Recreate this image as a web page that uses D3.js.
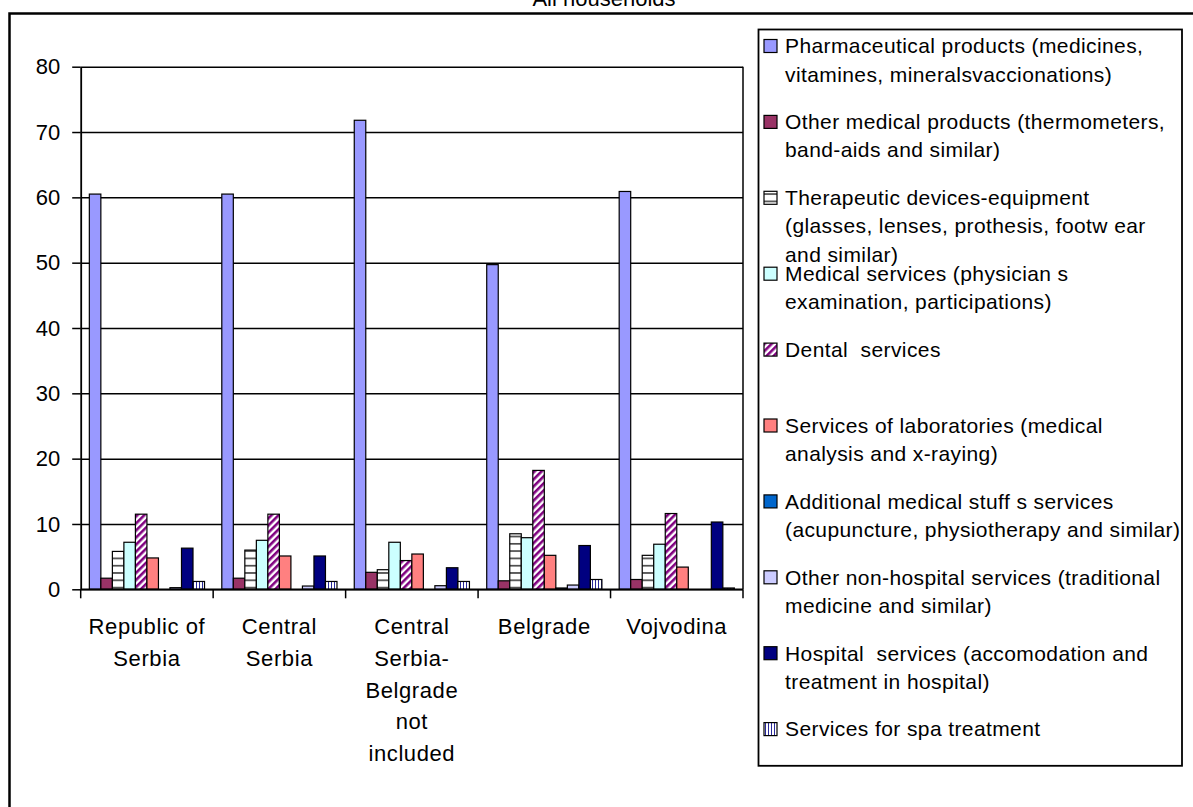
<!DOCTYPE html>
<html>
<head>
<meta charset="utf-8">
<script src="https://cdn.jsdelivr.net/npm/d3@7"></script>
<style>
  body { margin: 0; background: #fff; }
  svg { display: block; font-family: "Liberation Sans", Arial, sans-serif; }
  text { white-space: pre; fill: #000; }
</style>
</head>
<body>
<div id="chart"></div>
<script>
// categories on the x axis, and how each label wraps
var categories = ['Republic of Serbia', 'Central Serbia', 'Central Serbia-Belgrade not included', 'Belgrade', 'Vojvodina']
var categoryLines = [['Republic of', 'Serbia'], ['Central', 'Serbia'], ['Central', 'Serbia-', 'Belgrade', 'not', 'included'], ['Belgrade'], ['Vojvodina']]

// series values (one per category)
var pharmaceutical = [60.5, 60.5, 71.8, 49.7, 60.9]
var otherMedical = [1.7, 1.7, 2.6, 1.3, 1.5]
var therapeutic = [5.8, 6.0, 3.0, 8.5, 5.2]
var medicalServices = [7.2, 7.5, 7.2, 7.9, 6.9]
var dental = [11.5, 11.5, 4.4, 18.2, 11.6]
var laboratories = [4.8, 5.1, 5.4, 5.2, 3.4]
var additional = [0, 0, 0, 0.2, 0]
var otherNonHospital = [0.25, 0.5, 0.55, 0.65, 0]
var hospital = [6.3, 5.1, 3.3, 6.7, 10.3]
var spa = [1.2, 1.2, 1.2, 1.5, 0.2]

// legend texts, wrapped like in the original
var legendLines = [
  ['Pharmaceutical products (medicines,', 'vitamines, mineralsvaccionations)'],
  ['Other medical products (thermometers,', 'band-aids and similar)'],
  ['Therapeutic devices-equipment', '(glasses, lenses, prothesis, footw ear', 'and similar)'],
  ['Medical services (physician s', 'examination, participations)'],
  ['Dental  services'],
  ['Services of laboratories (medical', 'analysis and x-raying)'],
  ['Additional medical stuff s services', '(acupuncture, physiotherapy and similar)'],
  ['Other non-hospital services (traditional', 'medicine and similar)'],
  ['Hospital  services (accomodation and', 'treatment in hospital)'],
  ['Services for spa treatment']
]

var yTicks = [0, 10, 20, 30, 40, 50, 60, 70, 80]
var title = 'All households'

// series table built from the arrays above
var series = [
  { values: pharmaceutical, fill: '#9999FF' },
  { values: otherMedical, fill: '#993366' },
  { values: therapeutic, fill: 'url(#hlines)' },
  { values: medicalServices, fill: '#CCFFFF' },
  { values: dental, fill: 'url(#diag)' },
  { values: laboratories, fill: '#FF8080' },
  { values: additional, fill: '#0066CC' },
  { values: otherNonHospital, fill: '#CCCCFF' },
  { values: hospital, fill: '#000080' },
  { values: spa, fill: 'url(#vlines)' }
]

var W = 1193, H = 807
var plot = { left: 80.7, right: 743, top: 66.7, bottom: 589.3 }

var svg = d3.select('#chart').append('svg')
  .attr('width', W)
  .attr('height', H)

// patterns for the hatched bars
var defs = svg.append('defs')
var hl = defs.append('pattern').attr('id', 'hlines')
  .attr('patternUnits', 'userSpaceOnUse').attr('width', 8).attr('height', 7.3)
hl.append('rect').attr('width', 8).attr('height', 7.3).attr('fill', '#fff')
hl.append('rect').attr('y', 3).attr('width', 8).attr('height', 1.2).attr('fill', '#000')

var dg = defs.append('pattern').attr('id', 'diag')
  .attr('patternUnits', 'userSpaceOnUse').attr('width', 5).attr('height', 5)
  .attr('patternTransform', 'rotate(45)')
dg.append('rect').attr('width', 5).attr('height', 5).attr('fill', '#fff')
dg.append('rect').attr('width', 2.6).attr('height', 5).attr('fill', '#800080')

var vl = defs.append('pattern').attr('id', 'vlines')
  .attr('patternUnits', 'userSpaceOnUse').attr('width', 3).attr('height', 6)
vl.append('rect').attr('width', 3).attr('height', 6).attr('fill', '#fff')
vl.append('rect').attr('x', 1).attr('width', 1).attr('height', 6).attr('fill', '#2a2a9a')

// outer frame (runs off the right and bottom edge) and title
svg.append('rect')
  .attr('x', 9.5).attr('y', 13.5)
  .attr('width', W + 20).attr('height', H + 20)
  .attr('fill', 'none').attr('stroke', '#000').attr('stroke-width', 2.5)

svg.append('text')
  .attr('x', 604).attr('y', 6)
  .attr('text-anchor', 'middle')
  .style('font-size', '22px')
  .text(title)

// scales
var x0 = d3.scaleBand().domain(categories).range([plot.left, plot.right])
var x1 = d3.scaleBand().domain(d3.range(series.length))
  .range([0, x0.bandwidth()]).paddingInner(0).paddingOuter(0.75)
var y = d3.scaleLinear().domain([0, 80]).range([plot.bottom, plot.top])

// grid lines
svg.append('g')
  .attr('class', 'grid')
  .attr('transform', 'translate(' + plot.left + ',0)')
  .call(d3.axisLeft(y).tickValues(yTicks).tickSize(-(plot.right - plot.left)).tickFormat(''))
  .call(function(g) { g.select('.domain').remove() })
  .selectAll('line').attr('stroke', '#000').attr('stroke-width', 1.5)

// plot area border on the right
svg.append('line')
  .attr('x1', plot.right).attr('x2', plot.right)
  .attr('y1', plot.top).attr('y2', plot.bottom)
  .attr('stroke', '#000').attr('stroke-width', 1.5)

// bars
var groups = svg.selectAll('.series')
  .data(series)
  .enter().append('g')
  .attr('class', 'series')

groups.selectAll('rect')
  .data(function(s, i) {
    return s.values.map(function(v, j) { return { v: v, i: i, cat: categories[j], fill: s.fill } })
      .filter(function(d) { return d.v > 0 })
  })
  .enter().append('rect')
  .attr('x', function(d) { return x0(d.cat) + x1(d.i) })
  .attr('width', x1.bandwidth())
  .attr('y', function(d) { return y(d.v) })
  .attr('height', function(d) { return y(0) - y(d.v) })
  .attr('fill', function(d) { return d.fill })
  .attr('stroke', '#000')
  .attr('stroke-width', 1.2)

// y axis
var yAxis = svg.append('g')
  .attr('transform', 'translate(' + plot.left + ',0)')
  .call(d3.axisLeft(y).tickValues(yTicks).tickSize(8.5).tickSizeOuter(0).tickPadding(12))
yAxis.select('.domain').attr('stroke', '#000').attr('stroke-width', 1.8)
yAxis.selectAll('.tick line').attr('stroke', '#000').attr('stroke-width', 1.5)
yAxis.selectAll('.tick text')
  .style('font-size', '22px')
  .style('font-family', '"Liberation Sans", Arial, sans-serif')
  .attr('fill', '#000')

// x axis: baseline, ticks between categories, wrapped labels
svg.append('line')
  .attr('x1', plot.left).attr('x2', plot.right)
  .attr('y1', y(0)).attr('y2', y(0))
  .attr('stroke', '#000').attr('stroke-width', 1.8)

var boundaries = categories.map(function(c) { return x0(c) }).concat([plot.right])
svg.selectAll('.xtick')
  .data(boundaries)
  .enter().append('line')
  .attr('class', 'xtick')
  .attr('x1', function(d) { return d }).attr('x2', function(d) { return d })
  .attr('y1', y(0)).attr('y2', y(0) + 9)
  .attr('stroke', '#000').attr('stroke-width', 1.5)

var xlabels = svg.selectAll('.xlabel')
  .data(categories)
  .enter().append('text')
  .attr('class', 'xlabel')
  .attr('text-anchor', 'middle')
  .style('font-size', '22px')
  .style('letter-spacing', '0.6px')

xlabels.selectAll('tspan')
  .data(function(d, i) { return categoryLines[i].map(function(t) { return { t: t, c: d } }) })
  .enter().append('tspan')
  .attr('x', function(d) { return x0(d.c) + x0.bandwidth() / 2 })
  .attr('y', function(d, k) { return 626.7 + k * 31.6 })
  .attr('dy', '0.35em')
  .text(function(d) { return d.t })

// legend
var legend = svg.append('g').attr('class', 'legend')
legend.append('rect')
  .attr('x', 758.5).attr('y', 29.5)
  .attr('width', 1182 - 758.5).attr('height', 765.8 - 29.5)
  .attr('fill', '#fff').attr('stroke', '#000').attr('stroke-width', 1.8)

var entry = legend.selectAll('.entry')
  .data(series)
  .enter().append('g')
  .attr('class', 'entry')
  .attr('transform', function(d, i) { return 'translate(764,' + (46 + i * 75.9) + ')' })

entry.append('rect')
  .attr('x', 0).attr('y', -6.5)
  .attr('width', 13).attr('height', 13)
  .attr('fill', function(d) { return d.fill })
  .attr('stroke', '#000').attr('stroke-width', 1.2)

entry.append('text')
  .style('font-size', '21px')
  .style('letter-spacing', '0.4px')
  .selectAll('tspan')
  .data(function(d, i) { return legendLines[i] })
  .enter().append('tspan')
  .attr('x', 21)
  .attr('y', function(d, k) { return k * 28.2 })
  .attr('dy', '0.35em')
  .text(function(d) { return d })
</script>
</body>
</html>
